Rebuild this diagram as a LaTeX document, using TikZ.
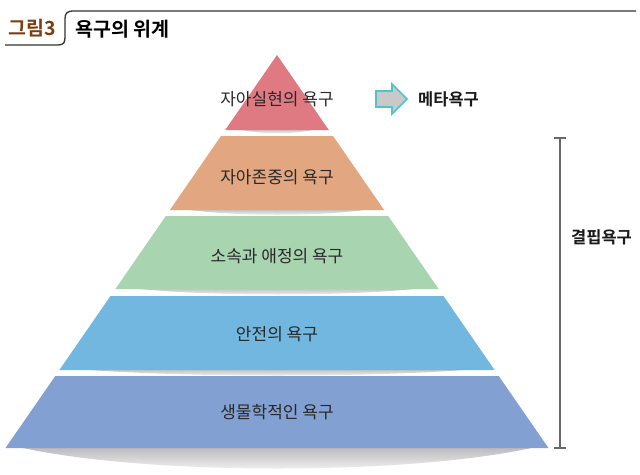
\documentclass[tikz,border=0pt]{standalone}
\usepackage{fontspec}
\newfontfamily\kr{Noto Sans CJK KR}
\newfontfamily\krb{Noto Sans CJK KR Bold}
\definecolor{bandA}{RGB}{224,122,130}
\definecolor{bandB}{RGB}{226,167,128}
\definecolor{bandC}{RGB}{168,213,176}
\definecolor{bandD}{RGB}{114,183,224}
\definecolor{bandE}{RGB}{130,160,210}
\definecolor{txt}{RGB}{40,40,40}
\definecolor{brown3}{RGB}{122,62,18}
\definecolor{arrowcyan}{RGB}{80,195,208}
\definecolor{arrowfill}{RGB}{201,201,201}
\definecolor{brk}{RGB}{105,105,105}
\tikzset{
  bandlabel/.style={text=txt,font=\kr\fontsize{17}{17}\selectfont,inner sep=0pt},
  sidelabel/.style={text=black!90,font=\krb\fontsize{16.5}{16.5}\selectfont,inner sep=0pt,anchor=west},
  shadowband/.style={top color=black!28,bottom color=white,draw=none},
}
\begin{document}
\begin{tikzpicture}[x=1pt,y=1pt]
\useasboundingbox (0,0) rectangle (640,-474);
\fill[white] (0,0) rectangle (640,-474);
% title
\draw[line width=1.3pt,black!80] (5,-45) -- (58,-45) .. controls (64,-45) and (65,-42) .. (65,-37) -- (65,-19) .. controls (65,-13) and (67,-11) .. (74,-11) -- (636,-11);
\node[text=brown3,font=\krb\fontsize{19.5}{19.5}\selectfont,inner sep=0pt,anchor=west] (fig) at (8,-28.5) {그림3};
\node[text=black,font=\krb\fontsize{19.5}{19.5}\selectfont,inner sep=0pt,anchor=west] (title) at (75,-29) {욕구의 위계};
% shadows
\shade[shadowband] (232,-128) .. controls (260,-135) and (295,-135) .. (322,-128) -- cycle;
\shade[shadowband] (176,-208) .. controls (230,-217) and (325,-217) .. (378,-208) -- cycle;
\shade[shadowband] (122,-287) .. controls (200,-297) and (355,-297) .. (432,-287) -- cycle;
\shade[shadowband] (66,-368) .. controls (170,-378) and (385,-378) .. (488,-368) -- cycle;
\shade[shadowband] (14,-446) .. controls (140,-476) and (415,-476) .. (540,-446) -- cycle;
% bands
\fill[bandA] (277,-55) -- (328.8,-130) -- (225.2,-130) -- cycle;
\fill[bandB] (221,-136) -- (333,-136) -- (384.1,-210) -- (169.9,-210) -- cycle;
\fill[bandC] (165.8,-216) -- (388.2,-216) -- (438.6,-289) -- (115.4,-289) -- cycle;
\fill[bandD] (110.5,-296) -- (443.5,-296) -- (494.6,-370) -- (59.4,-370) -- cycle;
\fill[bandE] (55.3,-376) -- (498.7,-376) -- (548.5,-448) -- (5.5,-448) -- cycle;
% labels
\node[bandlabel] (l1) at (277,-99) {자아실현의 욕구};
\node[bandlabel] (l2) at (277,-177) {자아존중의 욕구};
\node[bandlabel] (l3) at (277,-256) {소속과 애정의 욕구};
\node[bandlabel] (l4) at (277,-334) {안전의 욕구};
\node[bandlabel] (l5) at (277,-412) {생물학적인 욕구};
% meta arrow
\draw[arrowcyan,fill=arrowfill,line width=1.6pt,line join=miter] (376,-91) -- (392,-91) -- (392,-84) -- (407,-99) -- (392,-114) -- (392,-107) -- (376,-107) -- cycle;
\node[sidelabel] (meta) at (418,-99) {메타욕구};
% bracket
\coordinate (btop) at (560,-138);
\coordinate (bbot) at (560,-448);
\draw[brk,line width=2.6pt] (btop) -- (bbot);
\draw[brk,line width=2.4pt] ([xshift=-6]btop) -- ([xshift=6]btop);
\draw[brk,line width=2.4pt] ([xshift=-6]bbot) -- ([xshift=6]bbot);
\node[sidelabel] (def) at (571,-237) {결핍욕구};
\end{tikzpicture}
\end{document}
